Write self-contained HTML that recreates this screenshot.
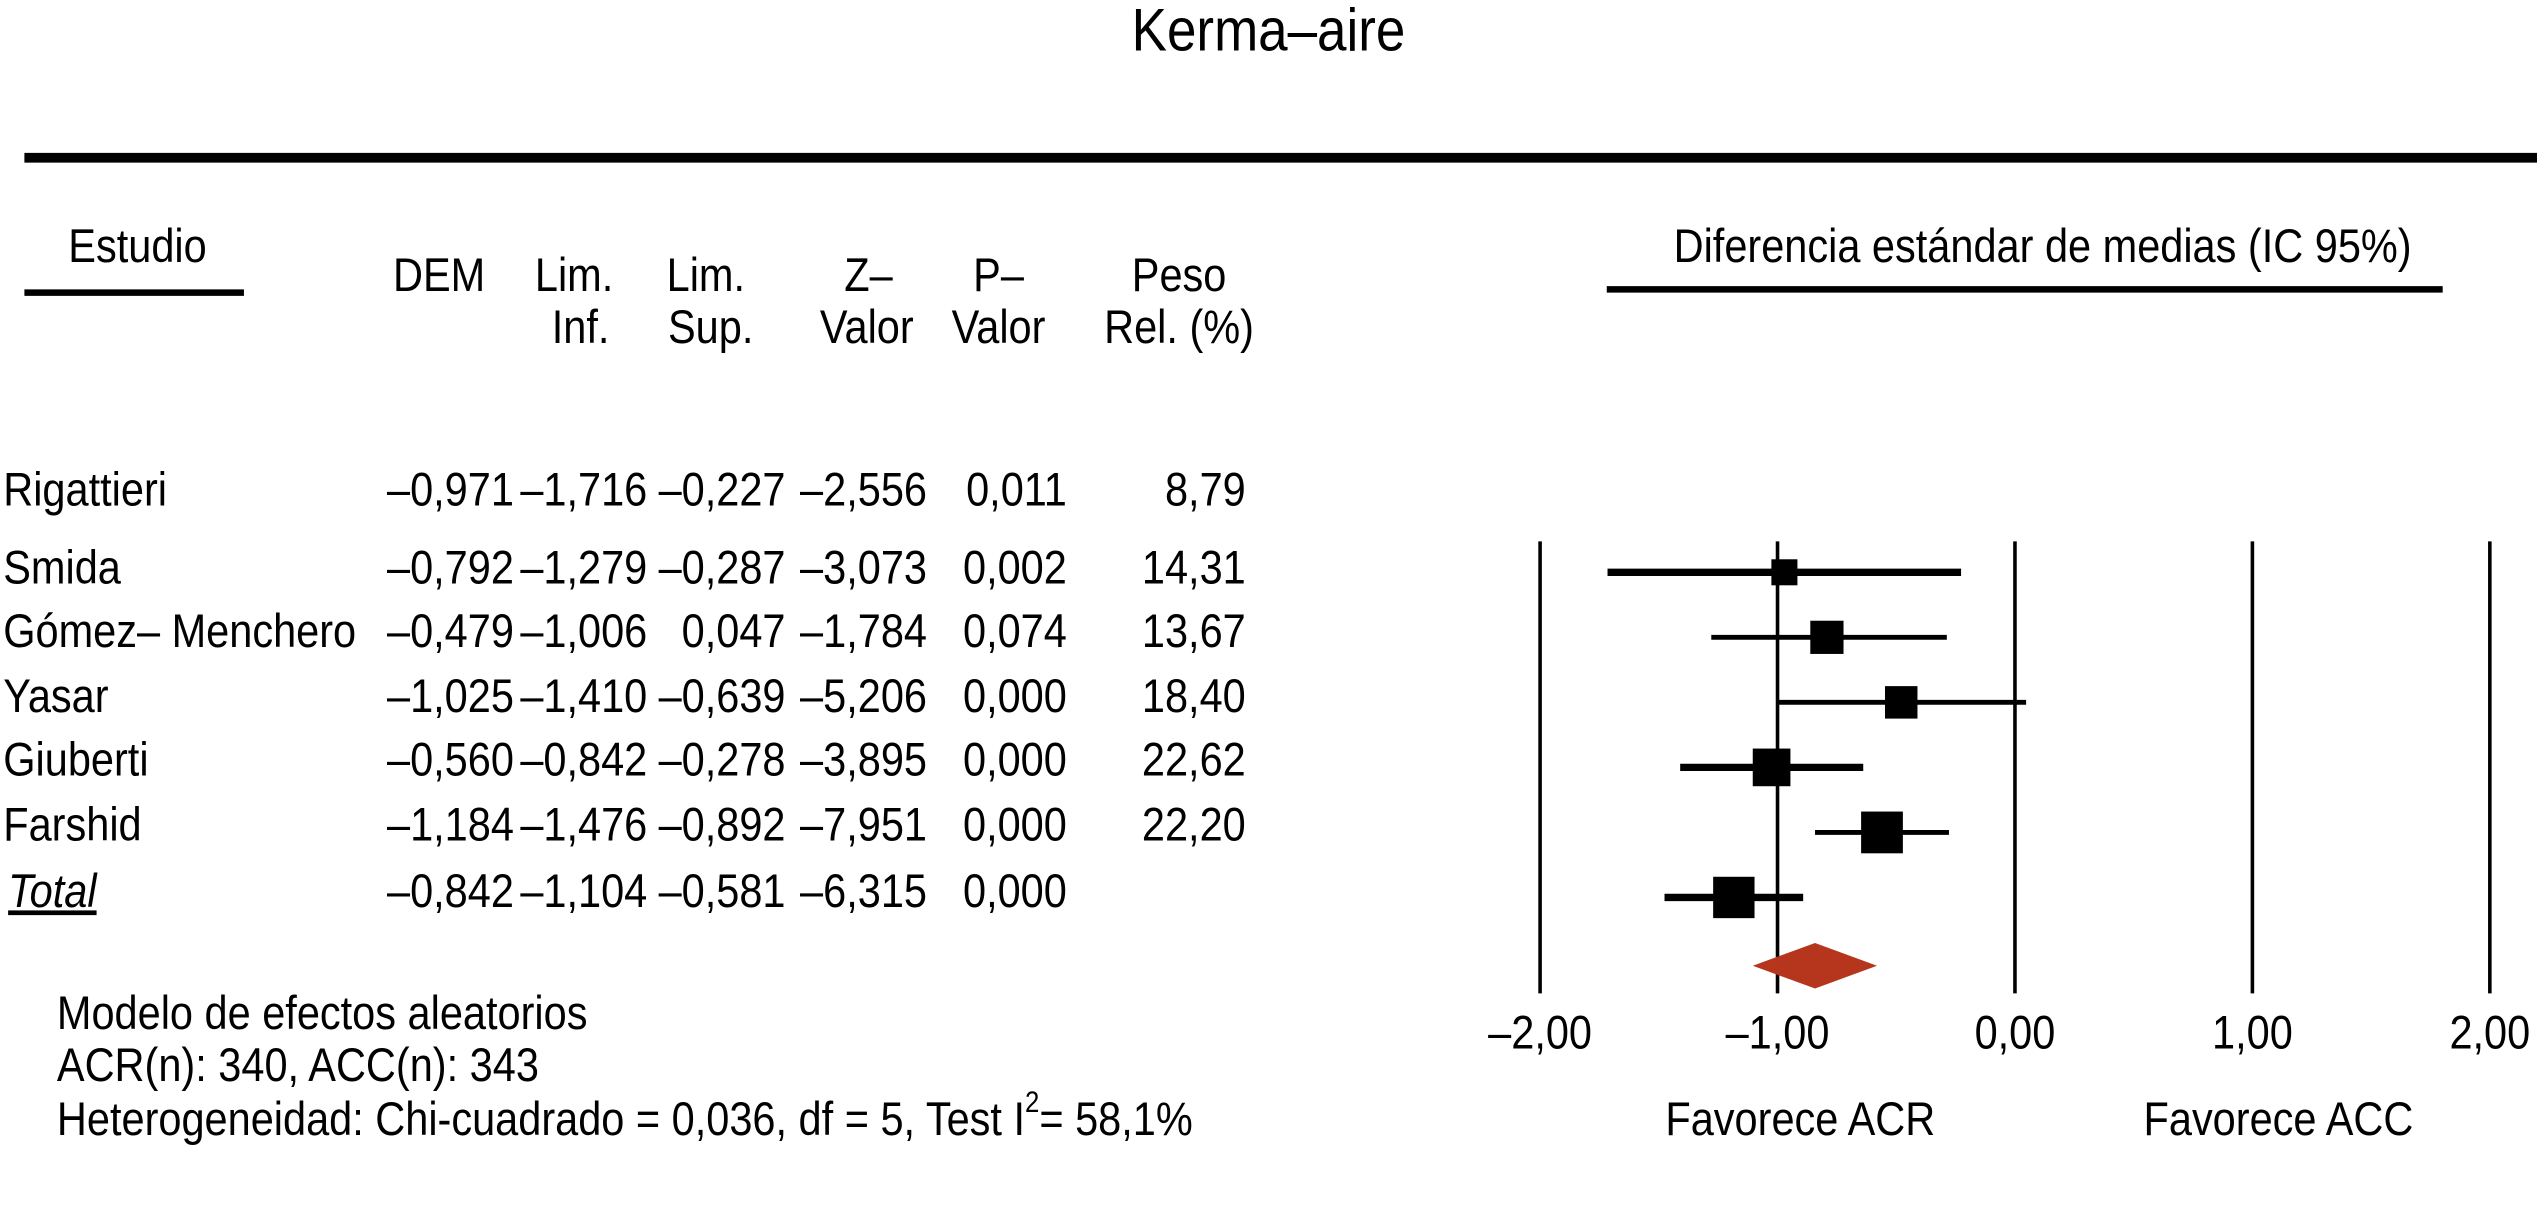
<!DOCTYPE html>
<html><head><meta charset="utf-8"><style>
html,body{margin:0;padding:0;background:#fff;}
svg{display:block;}
text{font-family:"Liberation Sans",Arial,sans-serif;fill:#000;}
</style></head><body>
<svg id="chart" width="2537" height="1208" viewBox="0 0 1560 743" preserveAspectRatio="none" xmlns="http://www.w3.org/2000/svg">
<rect width="1560" height="743" fill="#fff"/>
<line x1="15" y1="97" x2="1560" y2="97" stroke="#000" stroke-width="6"/>
<line x1="15" y1="180" x2="150" y2="180" stroke="#000" stroke-width="4"/>
<line x1="988" y1="178" x2="1502" y2="178" stroke="#000" stroke-width="4"/>
<g id="texts"></g>
<g id="plot"></g>
</svg>
<script>
const studies = ["Rigattieri","Smida","Gómez– Menchero","Yasar","Giuberti","Farshid"];
const dem = [-0.971,-0.792,-0.479,-1.025,-0.560,-1.184];
const limInf = [-1.716,-1.279,-1.006,-1.410,-0.842,-1.476];
const limSup = [-0.227,-0.287,0.047,-0.639,-0.278,-0.892];
const zVal = [-2.556,-3.073,-1.784,-5.206,-3.895,-7.951];
const pVal = [0.011,0.002,0.074,0.000,0.000,0.000];
const weights = [8.79,14.31,13.67,18.40,22.62,22.20];
const totalDem = -0.842, totalInf = -1.104, totalSup = -0.581, totalZ = -6.315, totalP = 0.000;
const xTicks = [-2,-1,0,1,2];
const xTickLabels = ["–2,00","–1,00","0,00","1,00","2,00"];

const NS="http://www.w3.org/2000/svg";
const T=document.getElementById('texts'), P=document.getElementById('plot');
const SX=0.88, FS=29;
function fmt(v,d){return (v<0?"–":"")+Math.abs(v).toFixed(d).replace('.',',');}
function txt(s,x,y,anchor,name,size,extra,sx){
  const t=document.createElementNS(NS,'text');
  t.setAttribute('transform','translate('+x+','+y+') scale('+(sx||SX)+',1)');
  t.setAttribute('font-size',size||FS);
  t.setAttribute('text-anchor',anchor||'start');
  if(extra)for(const k in extra)t.setAttribute(k,extra[k]);
  t.textContent=s;
  
  
  T.appendChild(t);return t;
}
txt("Kerma–aire",780,31,'middle','chart-title',37);
txt("Estudio",42,161,'start','header-estudio');
txt("DEM",270,179,'middle','header-dem');
txt("Lim.",353,179,'middle','header-lim-inf-1');
txt("Inf.",357,211,'middle','header-lim-inf-2');
txt("Lim.",434,179,'middle','header-lim-sup-1');
txt("Sup.",437,211,'middle','header-lim-sup-2');
txt("Z–",534,179,'middle','header-z-1');
txt("Valor",533,211,'middle','header-z-2');
txt("P–",614,179,'middle','header-p-1');
txt("Valor",614,211,'middle','header-p-2');
txt("Peso",725,179,'middle','header-peso-1');
txt("Rel. (%)",725,211,'middle','header-peso-2');
txt("Diferencia estándar de medias (IC 95%)",1256,161,'middle','plot-header');

const rowY=[311,359,398,438,477,517];
const colX=[316,398,483,570,656,766];
studies.forEach((s,i)=>{
  const y=rowY[i];
  txt(s,2,y,'start','study-name-'+i);
  txt(fmt(dem[i],3),colX[0],y,'end','dem-'+i);
  txt(fmt(limInf[i],3),colX[1],y,'end','lim-inf-'+i);
  txt(fmt(limSup[i],3),colX[2],y,'end','lim-sup-'+i);
  txt(fmt(zVal[i],3),colX[3],y,'end','z-value-'+i);
  txt(fmt(pVal[i],3),colX[4],y,'end','p-value-'+i);
  txt(fmt(weights[i],2),colX[5],y,'end','weight-'+i);
});
const ty=558;
txt("Total",5,ty,'start','total-label',FS,{'font-style':'italic','text-decoration':'underline'});
txt(fmt(totalDem,3),colX[0],ty,'end','total-dem');
txt(fmt(totalInf,3),colX[1],ty,'end','total-lim-inf');
txt(fmt(totalSup,3),colX[2],ty,'end','total-lim-sup');
txt(fmt(totalZ,3),colX[3],ty,'end','total-z');
txt(fmt(totalP,3),colX[4],ty,'end','total-p');
txt("Modelo de efectos aleatorios",35,633,'start','model-note');
txt("ACR(n): 340, ACC(n): 343",35,665,'start','sample-note');
const h=txt("",35,698,'start','heterogeneity-note',FS,null,0.88);
h.innerHTML='Heterogeneidad: Chi-cuadrado = 0,036, df = 5, Test I<tspan font-size="18" dy="-14">2</tspan><tspan dy="14">= 58,1%</tspan>';

// plot
const x0=947,x1=1531,vMin=-2,vMax=2;
const xs=v=>x0+(v-vMin)/(vMax-vMin)*(x1-x0);
const markY=[352,392,432,472,512,552];
const diamondY=594;
function el(tag,attrs){const e=document.createElementNS(NS,tag);for(const k in attrs)e.setAttribute(k,attrs[k]);P.appendChild(e);return e;}
xTicks.forEach((v,i)=>{
  const l=el('line',{x1:xs(v),x2:xs(v),y1:333,y2:611,stroke:'#000','stroke-width':2.2});
  
  
  txt(xTickLabels[i],xs(v),645,'middle','x-tick-label-'+i);
});
txt("Favorece ACR",1107,698,'middle','favours-acr-label');
txt("Favorece ACC",1401,698,'middle','favours-acc-label');
const thick=[4.5,3,3,4.5,3,4.5];
dem.forEach((d,i)=>{
  const y=markY[i];
  const l=el('line',{x1:xs(limInf[i]),x2:xs(limSup[i]),y1:y,y2:y,stroke:'#000','stroke-width':thick[i]});
  
  
  const s=Math.sqrt(weights[i])*5.4;
  const r=el('rect',{x:xs(d)-s/2,y:y-s/2,width:s,height:s,fill:'#000'});
  
  
});
const dm=el('polygon',{points:[xs(totalInf)+','+diamondY, xs(totalDem)+','+(diamondY-14), xs(totalSup)+','+diamondY, xs(totalDem)+','+(diamondY+14)].join(' '),fill:'#b5361c'});


</script>
</body></html>
